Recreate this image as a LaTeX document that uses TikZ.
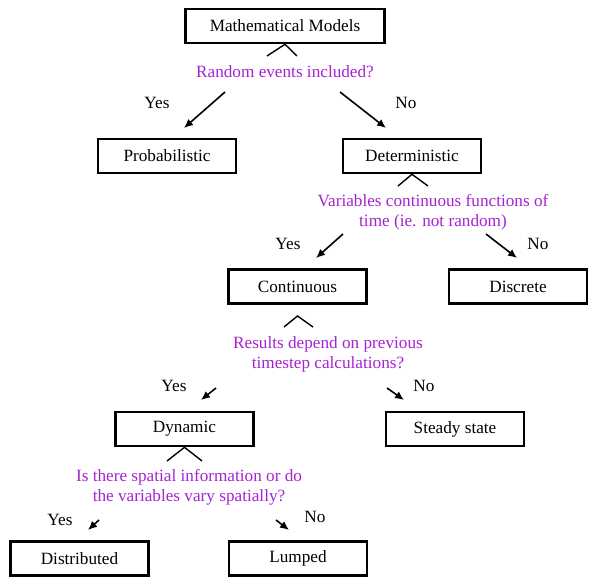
\documentclass[tikz,border=0pt]{standalone}
\usepackage{fontspec}
\setmainfont{Liberation Serif}
\usetikzlibrary{arrows.meta}

\begin{document}
\begin{tikzpicture}[
				x=1pt, y=-1pt,
				font=\fontsize{17.2}{20}\selectfont,
				model/.style={draw, line width=2.6pt, minimum width=138pt, minimum height=34pt, inner sep=0pt},
				question/.style={text=quest, align=center, inner sep=0pt},
				answer/.style={inner sep=0pt},
				pick/.style={-{Latex[length=9pt,width=8pt]}, line width=1.6pt},
				hat/.style={line width=1.4pt},
				>=latex]
				\definecolor{quest}{RGB}{165,35,210}
				\useasboundingbox (0,0) rectangle (593,577);
				
				% Boxes
				\node[model, minimum width=199pt] (models) at (285,26) {Mathematical Models};
				\node[model] (prob) at (167,156) {Probabilistic};
				\node[model] (det) at (412,156) {Deterministic};
				\node[model] (cont) at (297.5,286.5) {Continuous};
				\node[model] (disc) at (518,286.5) {Discrete};
				\node[model] (dyn) at (184.5,429) {Dynamic};
				\node[model] (steady) at (455,429) {Steady state};
				\node[model] (dist) at (79.5,558.5) {Distributed};
				\node[model] (lump) at (298,558.5) {Lumped};
				
				% Questions
				\node[question] (qrandom) at (285,72) {Random events included?};
				\node[question] (qcont) at (433,212) {Variables continuous functions of\\time (ie. not random)};
				\node[question] (qstep) at (328,354) {Results depend on previous\\timestep calculations?};
				\node[question] (qspace) at (189,487) {Is there spatial information or do\\the variables vary spatially?};
				
				% Yes / No
				\node[answer] (yes1) at (157,103) {Yes};
				\node[answer] (no1) at (406,103) {No};
				\node[answer] (yes2) at (288,244) {Yes};
				\node[answer] (no2) at (538,244) {No};
				\node[answer] (yes3) at (174,386) {Yes};
				\node[answer] (no3) at (424,386) {No};
				\node[answer] (yes4) at (60,520) {Yes};
				\node[answer] (no4) at (315,517) {No};
				
				% Carets under the boxes
				\coordinate (ctop) at (297.5,316);
				\draw[hat] (267,56) coordinate (mL) -- (models.south) -- (297,56) coordinate (mR);
				\draw[hat] (398,186) coordinate (dL) -- (det.south) -- (428,186) coordinate (dR);
				\draw[hat] (284,327) coordinate (cL) -- (ctop) -- (313,327) coordinate (cR);
				\draw[hat] (167,461) coordinate (yL) -- (dyn.south) -- (202,461) coordinate (yR);
				
				% Arrows
				\coordinate (a1) at (225,92);  \coordinate (b1) at (184,128);
				\coordinate (a2) at (340,92);  \coordinate (b2) at (386,128);
				\coordinate (a3) at (343,234); \coordinate (b3) at (316,258);
				\coordinate (a4) at (486,234); \coordinate (b4) at (517,258);
				\coordinate (a5) at (216,388); \coordinate (b5) at (201,400);
				\coordinate (a6) at (387,388); \coordinate (b6) at (404,400);
				\coordinate (a7) at (99,520);  \coordinate (b7) at (88,530);
				\coordinate (a8) at (276,520); \coordinate (b8) at (289,530);
				\foreach \s/\e in {a1/b1,a2/b2,a3/b3,a4/b4,a5/b5,a6/b6,a7/b7,a8/b8}
					\draw[pick] (\s) -- (\e);
			\end{tikzpicture}
\end{document}
